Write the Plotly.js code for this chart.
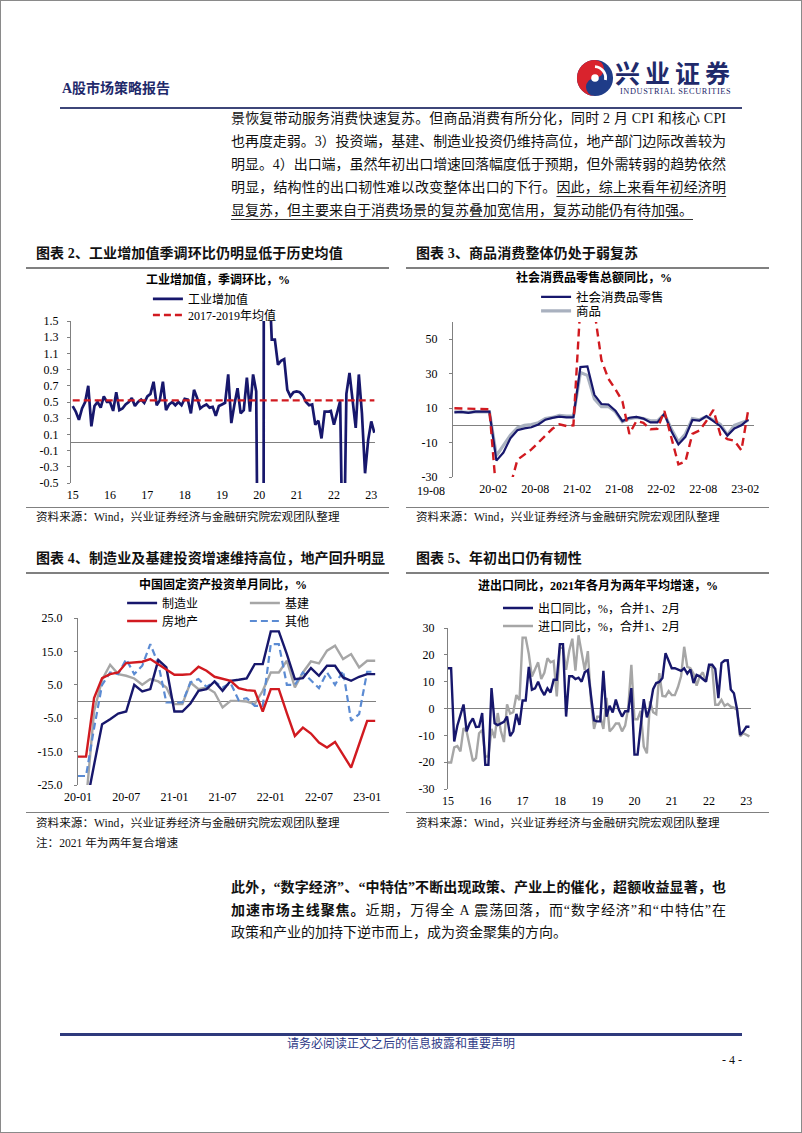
<!DOCTYPE html>
<html lang="zh-CN">
<head>
<meta charset="utf-8">
<script src="https://cdn.plot.ly/plotly-3.0.1.min.js"></script>
<style>
html,body{margin:0;padding:0;background:#fff;}
#page{position:relative;width:802px;height:1133px;box-sizing:border-box;border:1px solid #8a8a8a;overflow:hidden;
  font-family:"Liberation Serif","Noto Sans CJK SC",serif;color:#111;background:#fff;}
.t{position:absolute;white-space:nowrap;}
.pl{position:absolute;left:230px;width:495px;font-size:14px;line-height:20px;height:20px;white-space:nowrap;}
.pl .in{display:inline-block;}
.u{text-decoration:underline;text-decoration-thickness:1px;text-underline-offset:4px;text-decoration-color:#333;}
.hd{font-size:14px;font-weight:bold;line-height:18px;letter-spacing:0.1px;}
.src{font-size:11.6px;line-height:16px;}
.rule{position:absolute;background:#808080;}
.chart{position:absolute;}
</style>
</head>
<body>
<div id="page">
  <!-- header -->
  <div class="t" style="left:61px;top:78px;font-size:14px;line-height:20px;font-weight:bold;color:#1f2a6b;">A股市场策略报告</div>
  <svg style="position:absolute;left:575px;top:58px" width="38" height="38" viewBox="0 0 40 40">
    <circle cx="20" cy="20" r="19" fill="#1f3c88"/>
    <path d="M20 1 A19 19 0 0 0 20 39 A9.5 9.5 0 0 1 20 20 A9.5 9.5 0 0 0 20 1Z" fill="#d9232d"/>
    <path d="M20 8 A12 12 0 0 1 31 22" stroke="#fff" stroke-width="3" fill="none"/>
    <circle cx="20" cy="20" r="4" fill="#fff"/>
  </svg>
  <div class="t" style="left:614px;top:60px;font-size:25px;line-height:28px;font-weight:bold;color:#1f2a6b;letter-spacing:5px;">兴业证券</div>
  <div class="t" style="left:619px;top:86px;font-size:8.3px;line-height:10px;color:#1f2a6b;letter-spacing:0.6px;">INDUSTRIAL SECURITIES</div>
  <div class="rule" style="left:59px;top:106px;width:682px;height:2px;background:#3d4679;"></div>

  <!-- top paragraph -->
  <div class="pl" style="top:108px;"><span class="in">景恢复带动服务消费快速复苏。但商品消费有所分化，同时 2 月 CPI 和核心 CPI</span></div>
  <div class="pl" style="top:131px;"><span class="in">也再度走弱。3）投资端，基建、制造业投资仍维持高位，地产部门边际改善较为</span></div>
  <div class="pl" style="top:154px;"><span class="in">明显。4）出口端，虽然年初出口增速回落幅度低于预期，但外需转弱的趋势依然</span></div>
  <div class="pl" style="top:177px;"><span class="in">明显，结构性的出口韧性难以改变整体出口的下行。<span class="u">因此，综上来看年初经济明</span></span></div>
  <div class="pl last" style="top:200px;"><span class="in"><span class="u">显复苏，但主要来自于消费场景的复苏叠加宽信用，复苏动能仍有待加强。</span></span></div>

  <!-- chart headers, top row -->
  <div class="t hd" style="left:35px;top:244px;">图表 2、工业增加值季调环比仍明显低于历史均值</div>
  <div class="t hd" style="left:415px;top:244px;">图表 3、商品消费整体仍处于弱复苏</div>
  <div class="rule" style="left:25px;top:266px;width:363px;height:1.5px;"></div>
  <div class="rule" style="left:405px;top:266px;width:363px;height:1.5px;"></div>
  <div class="rule" style="left:25px;top:506px;width:363px;height:1px;"></div>
  <div class="rule" style="left:405px;top:506px;width:363px;height:1px;"></div>
  <div class="t src" style="left:35px;top:509px;">资料来源：Wind，兴业证券经济与金融研究院宏观团队整理</div>
  <div class="t src" style="left:415px;top:509px;">资料来源：Wind，兴业证券经济与金融研究院宏观团队整理</div>

  <!-- chart headers, bottom row -->
  <div class="t hd" style="left:35px;top:549px;">图表 4、制造业及基建投资增速维持高位，地产回升明显</div>
  <div class="t hd" style="left:415px;top:549px;">图表 5、年初出口仍有韧性</div>
  <div class="rule" style="left:25px;top:571px;width:363px;height:1.5px;"></div>
  <div class="rule" style="left:405px;top:571px;width:363px;height:1.5px;"></div>
  <div class="rule" style="left:25px;top:811px;width:363px;height:1px;"></div>
  <div class="rule" style="left:405px;top:811px;width:363px;height:1px;"></div>
  <div class="t src" style="left:35px;top:815px;">资料来源：Wind，兴业证券经济与金融研究院宏观团队整理</div>
  <div class="t src" style="left:415px;top:815px;">资料来源：Wind，兴业证券经济与金融研究院宏观团队整理</div>
  <div class="t src" style="left:35px;top:835px;">注：2021 年为两年复合增速</div>

  <!-- charts -->
  <div id="c2" class="chart" style="left:20px;top:268px;"></div>
  <div id="c3" class="chart" style="left:400px;top:268px;"></div>
  <div id="c4" class="chart" style="left:20px;top:573px;"></div>
  <div id="c5" class="chart" style="left:400px;top:573px;"></div>

  <!-- bottom paragraph -->
  <div class="pl" style="top:877px;font-weight:bold;"><span class="in">此外，“数字经济”、“中特估”不断出现政策、产业上的催化，超额收益显著，也</span></div>
  <div class="pl" style="top:900px;"><span class="in"><b>加速市场主线聚焦。</b>近期，万得全 A 震荡回落，而“数字经济”和“中特估”在</span></div>
  <div class="pl last" style="top:922px;"><span class="in">政策和产业的加持下逆市而上，成为资金聚集的方向。</span></div>

  <!-- footer -->
  <div class="rule" style="left:59px;top:1032px;width:682px;height:2.5px;background:#2f3a7c;"></div>
  <div class="t" style="left:59px;width:682px;top:1035px;font-size:12px;line-height:16px;text-align:center;color:#2e3a87;">请务必阅读正文之后的信息披露和重要声明</div>
  <div class="t" style="left:700px;width:41px;top:1051px;font-size:12px;line-height:16px;text-align:right;color:#111;">- 4 -</div>
</div>

<script>
// justify each (non-final) paragraph line to the 495px column
function justifyLines() {
  document.querySelectorAll('.pl').forEach(el => {
    if (el.classList.contains('last')) return;
    el.style.letterSpacing = '0px';
    const inner = el.querySelector('.in');
    const w = inner.getBoundingClientRect().width;
    const n = inner.textContent.length;
    el.style.letterSpacing = ((495 - w) / (n - 1)) + 'px';
  });
}
justifyLines();
if (document.fonts && document.fonts.ready) document.fonts.ready.then(justifyLines);

// ===================== DATA =====================
// Chart 2: industrial value added, s.a. m/m %, monthly Jan-2015 .. Feb-2023
const c2YearLabels = ['15','16','17','18','19','20','21','22','23'];
const c2IndustrialSA = [
  0.45,0.38,0.28,0.42,0.50,0.70,0.20,0.45,0.50,0.43,0.57,0.50,
  0.50,0.39,0.62,0.40,0.42,0.47,0.50,0.55,0.45,0.50,0.53,0.49,
  0.57,0.60,0.75,0.46,0.52,0.75,0.40,0.47,0.50,0.46,0.50,0.46,
  0.54,0.53,0.36,0.65,0.55,0.42,0.45,0.47,0.43,0.44,0.33,0.45,
  0.47,0.49,0.84,0.24,0.47,0.67,0.36,0.40,0.80,0.38,0.84,0.63,
  -4.0,-20.0,30.0,2.2,1.27,1.27,0.96,1.01,1.03,0.65,0.57,0.62,
  0.63,0.62,0.58,0.50,0.46,0.47,0.22,0.27,0.05,0.38,0.38,0.39,
  0.22,0.36,0.51,-2.0,0.60,0.86,0.50,0.18,0.84,0.36,-0.38,0.03,
  0.26,0.12
];
const c2Avg2017to2019 = 0.52;
const c2YTickVals = [-0.5,-0.3,-0.1,0.1,0.3,0.5,0.7,0.9,1.1,1.3,1.5];
const c2YTickText = ['-0.5','-0.3','-0.1','0.1','0.3','0.5','0.7','0.9','1.1','1.3','1.5'];

// Chart 3: retail sales y/y %, monthly Aug-2019 .. Feb-2023
const c3MonthLabels = ['20-02','20-08','21-02','21-08','22-02','22-08','23-02'];
const c3LabelMonthIdx = [6,12,18,24,30,36,42];
const c3RetailTotal = [
  7.5,7.8,7.2,8.0,8.0,8.0,-20.5,-15.8,-7.5,-2.8,-1.8,-1.1,0.5,3.3,4.3,5.0,4.6,4.6,
  33.8,34.2,17.7,12.4,12.1,8.5,2.5,4.4,4.9,3.9,1.7,1.7,6.7,-3.5,-11.1,-6.7,3.1,2.7,
  5.4,2.5,-0.5,-5.9,-1.8,0.0,3.5
];
const c3Goods = [
  7.9,7.9,7.5,8.0,7.8,7.8,-17.6,-12.0,-5.7,-1.5,0.0,0.5,1.5,3.9,4.6,5.8,5.3,5.3,
  30.7,29.0,15.3,10.9,11.0,7.9,2.1,3.9,4.6,4.0,2.6,2.6,6.5,-2.1,-9.7,-5.0,3.9,3.2,
  5.1,3.0,0.5,-5.6,0.0,1.5,2.9
];
const c3Catering = [
  9.9,9.7,9.5,9.5,9.5,9.3,-40,-46,-35,-20,-17,-14,-10,-6,-2,0.6,-0.4,0,
  70,95,65,38,27,21,14,-5,2.5,1.5,-2.3,-2.0,8.3,-8,-22.7,-21,-5,-3,
  2.5,9,-5.5,-8,-9,-14.5,9.5
];
const c3YTickVals = [-30,-10,10,30,50];
const c3YTickText = ['-30','-10','10','30','50'];

// Chart 4: FAI single-month y/y %, monthly Jan-2020 .. Feb-2023
const c4MonthLabels = ['20-01','20-07','21-01','21-07','22-01','22-07','23-01'];
const c4Manufacturing = [
  -31.5,-31.5,-19,-6.8,-5.3,-3.6,-3.0,5.0,3.0,3.7,12.4,10.2,
  -3.0,-3.0,-0.6,3.2,3.7,6.0,3.2,6.2,6.5,6.9,11.2,11.2,
  21.0,21.0,14.2,6.7,7.0,10.0,7.7,10.7,10.7,7.2,6.2,7.4,
  8.2,8.2
];
const c4Infrastructure = [
  -30,-30,-3,6.5,11.0,8.2,7.7,6.9,5.0,6.7,6.0,4.2,
  -0.8,-0.8,5.7,3.7,4.2,2.7,-1.8,0.2,0.2,0.0,-0.8,3.2,
  8.7,8.7,12.2,4.2,8.7,12.0,11.4,15.2,16.7,12.7,14.2,10.2,
  12.2,12.2
];
const c4RealEstate = [
  -16.5,-16.5,1.0,7.0,8.2,8.7,11.5,11.7,11.9,12.7,11.2,9.7,
  8.0,8.0,8.2,10.4,9.2,7.4,6.7,6.2,4.0,3.4,3.2,-3.0,
  3.7,3.7,-3.5,-10.3,-7.8,-9.6,-12.3,-13.8,-12.1,-15.8,-19.8,-12.8,
  -5.8,-5.8
];
const c4Other = [
  -22.3,-22.3,-8,5.0,8.7,8.2,12.7,8.2,10.7,17.2,11.2,-0.3,
  -0.3,-0.3,5.7,6.7,4.4,6.0,4.2,5.5,0.4,1.0,-1.3,-1.3,
  17.2,17.2,5.0,5.0,8.7,6.5,4.0,8.7,5.0,9.2,-5.8,-3.8,
  8.9,8.9
];
const c4YTickVals = [-25,-15,-5,5,15,25];
const c4YTickText = ['-25.0','-15.0','-5.0','5.0','15.0','25.0'];

// Chart 5: exports / imports y/y %, monthly Jan-2015 .. Feb-2023
const c5YearLabels = ['15','16','17','18','19','20','21','22','23'];
const c5Exports = [
  15.0,15.0,-12.3,-6.4,-2.5,1.5,-8.5,-5.5,-3.7,-6.9,-6.8,-1.7,
  -21,-21,7.6,-5.5,-6.2,-5.5,-5.0,-3.0,-10.3,-8.5,-2.0,-6.1,
  3.0,3.0,15.5,7.0,7.5,10.0,7.0,5.0,7.5,6.0,10.7,10.7,
  24.0,24.0,-3.0,12.0,12.0,11.0,11.5,10.0,13.5,14.3,5.0,-4.4,
  -4.8,-4.8,14.0,-3.0,1.0,-1.5,3.3,-0.5,-3.0,-1.0,-1.0,7.6,
  -17.2,-17.2,-6.6,3.5,-3.3,0.5,7.2,9.5,9.9,11.4,20.6,18.1,
  15.0,15.0,14.5,14.0,15.0,13.0,14.5,9.5,12.5,12.0,11.0,10.0,
  16.3,16.3,14.7,3.9,16.9,17.9,18.0,7.1,5.7,-0.3,-9.8,-8.6,
  -6.8,-6.8
];
const c5Imports = [
  -20.1,-20.1,-14.5,-14.0,-16.0,-7.3,-8.6,-14.0,-19.6,-18.5,-9.2,-8.0,
  -17.9,-17.9,-7.6,-11.0,-1.7,-8.4,-12.5,1.5,-1.9,-1.4,5.0,3.1,
  26.4,26.4,20.3,11.9,14.8,17.2,11.0,13.3,18.7,17.2,17.7,4.5,
  22.6,22.6,14.4,21.5,26.0,14.1,27.3,20.0,14.3,21.4,3.0,-7.6,
  -3.1,-3.1,-7.6,4.0,-8.5,-7.3,-5.6,-5.6,-8.5,-6.4,0.3,16.3,
  -4.0,-4.0,-0.9,-14.2,-16.7,2.7,-1.4,-2.1,13.2,4.7,4.5,6.5,
  5.0,5.0,8.0,12.0,23.0,15.5,15.0,13.0,8.5,12.0,13.5,10.0,
  15.5,15.5,1.4,1.4,3.2,1.0,1.7,0.7,0.3,-0.5,-10.4,-9.2,
  -9.8,-10.4
];
const c5YTickVals = [-30,-20,-10,0,10,20,30];
const c5YTickText = ['-30','-20','-10','0','10','20','30'];

// ===================== STYLE =====================
const FONT = '"Liberation Serif", "Noto Sans CJK SC", serif';
const NAVY = '#17176c';
const RED = '#d11a20';
const GRAY = '#a6a6a6';
const GRAY_BLUE = '#a9b1bf';
const BLUE_DASH = '#5b8bd3';
const AXIS_GRAY = '#808080';

const idx = arr => arr.map((_, i) => i);
const yearTicks = labels => labels.map((_, k) => k * 12);

function makeLayout(c) {
  const lay = {
    width: c.w, height: c.h,
    margin: {l: c.l, r: c.r, t: c.t, b: c.b, pad: 0},
    paper_bgcolor: 'rgba(0,0,0,0)', plot_bgcolor: 'rgba(0,0,0,0)',
    font: {family: FONT, size: 12, color: '#000'},
    showlegend: true, hovermode: false,
    title: {text: '<b>' + c.title + '</b>', font: {family: FONT, size: 12, color: '#000'},
            xref: 'container', x: c.titleX, xanchor: 'center', yref: 'container', y: c.titleY, yanchor: 'middle'},
    xaxis: {range: c.xr, showgrid: false, zeroline: false, showline: false, ticks: '',
            tickmode: 'array', tickvals: c.xtv, ticktext: c.xtt, ticklabelstandoff: c.xStand,
            tickfont: {family: FONT, size: 12, color: '#000'}, fixedrange: true},
    xaxis2: {overlaying: 'x', anchor: 'free', position: c.zeroPos, range: c.xr, showgrid: false,
             zeroline: false, showline: false, ticks: 'inside', ticklen: 4, tickwidth: 1, tickcolor: AXIS_GRAY,
             tickmode: 'array', tickvals: c.xtv, showticklabels: false, fixedrange: true},
    yaxis: {range: c.yr, showgrid: false, zeroline: true, zerolinecolor: AXIS_GRAY, zerolinewidth: 1,
            showline: true, linecolor: AXIS_GRAY, linewidth: 1, ticks: 'outside', ticklen: 3,
            tickcolor: AXIS_GRAY, tickwidth: 1, tickmode: 'array', tickvals: c.ytv, ticktext: c.ytt,
            ticklabelstandoff: c.yStand, tickfont: {family: FONT, size: 12, color: '#000'}, fixedrange: true},
    annotations: c.annotations || []
  };
  c.legends.forEach((lg, k) => {
    lay[k === 0 ? 'legend' : 'legend' + (k + 1)] = {
      x: lg.x, y: lg.y, xanchor: 'left', yanchor: 'middle', bgcolor: 'rgba(0,0,0,0)', borderwidth: 0,
      font: {family: FONT, size: c.legendSize || 12, color: '#000'}, itemwidth: 30, orientation: 'v'
    };
  });
  return lay;
}
const cfg = {displayModeBar: false, staticPlot: true};

// ---------- Chart 2 ----------
{
  const x = idx(c2IndustrialSA);
  const traces = [
    {x: x, y: c2IndustrialSA, type: 'scatter', mode: 'lines', name: '工业增加值',
     line: {color: NAVY, width: 2.7}, legend: 'legend'},
    {x: [x[0], x[x.length - 1]], y: [c2Avg2017to2019, c2Avg2017to2019], type: 'scatter', mode: 'lines',
     name: '2017-2019年均值', line: {color: RED, width: 2.4, dash: '7px,4px'}, legend: 'legend2'}
  ];
  const lay = makeLayout({
    w: 370, h: 245, l: 50, r: 16, t: 52, b: 31,
    title: '工业增加值，季调环比，%', titleX: (217 - 20) / 370, titleY: 1 - 11 / 245,
    xr: [-0.55, 97.2], xtv: yearTicks(c2YearLabels), xtt: c2YearLabels, xStand: 3,
    yr: [-0.5, 1.5], ytv: c2YTickVals, ytt: c2YTickText, yStand: 6, zeroPos: 0.25,
    legends: [{x: 0.253, y: 1.136}, {x: 0.253, y: 1.037}]
  });
  Plotly.newPlot('c2', traces, lay, cfg);
}

// ---------- Chart 3 ----------
{
  const x = idx(c3RetailTotal);
  const traces = [
    {x: x, y: c3Goods, type: 'scatter', mode: 'lines', name: '商品',
     line: {color: GRAY_BLUE, width: 3.2}, legend: 'legend2'},
    {x: x, y: c3RetailTotal, type: 'scatter', mode: 'lines', name: '社会消费品零售',
     line: {color: NAVY, width: 2.2}, legend: 'legend'},
    {x: x, y: c3Catering, type: 'scatter', mode: 'lines', name: '餐饮收入',
     line: {color: RED, width: 2.4, dash: '8px,5px'}, showlegend: false}
  ];
  const lay = makeLayout({
    w: 380, h: 245, l: 52, r: 27, t: 53, b: 37,
    title: '社会消费品零售总额同比，%', titleX: (593 - 400) / 380, titleY: 1 - 9 / 245,
    xr: [-0.2, 42.8], xtv: c3LabelMonthIdx.map(v => v - 0.45), xtt: c3MonthLabels, xStand: 3,
    yr: [-30, 60], ytv: c3YTickVals, ytt: c3YTickText, yStand: 9, zeroPos: 30 / 90,
    legends: [{x: 0.276, y: 1.16}, {x: 0.276, y: 1.07}], legendSize: 12.5,
    annotations: [{xref: 'paper', yref: 'paper', x: (430 - 452) / 301, y: -14 / 155, text: '19-08',
                   showarrow: false, xanchor: 'center', yanchor: 'middle',
                   font: {family: FONT, size: 12, color: '#000'}}]
  });
  Plotly.newPlot('c3', traces, lay, cfg);
}

// ---------- Chart 4 ----------
{
  const x = idx(c4Manufacturing);
  const traces = [
    {x: x, y: c4Infrastructure, type: 'scatter', mode: 'lines', name: '基建',
     line: {color: GRAY, width: 2.4}, legend: 'legend2'},
    {x: x, y: c4Other, type: 'scatter', mode: 'lines', name: '其他',
     line: {color: BLUE_DASH, width: 2.2, dash: '7px,4px'}, legend: 'legend4'},
    {x: x, y: c4Manufacturing, type: 'scatter', mode: 'lines', name: '制造业',
     line: {color: NAVY, width: 2.4}, legend: 'legend'},
    {x: x, y: c4RealEstate, type: 'scatter', mode: 'lines', name: '房地产',
     line: {color: RED, width: 2.4}, legend: 'legend3'}
  ];
  const lay = makeLayout({
    w: 370, h: 240, l: 57, r: 15, t: 44, b: 29,
    title: '中国固定资产投资单月同比，%', titleX: (222 - 20) / 370, titleY: 1 - 11 / 240,
    xr: [0, 37.1], xtv: c4MonthLabels.map((_, k) => k * 6), xtt: c4MonthLabels, xStand: 3,
    yr: [-25, 25], ytv: c4YTickVals, ytt: c4YTickText, yStand: 9, zeroPos: 0.5,
    legends: [{x: 0.148, y: 1.090}, {x: 0.560, y: 1.090}, {x: 0.148, y: 0.982}, {x: 0.560, y: 0.982}]
  });
  Plotly.newPlot('c4', traces, lay, cfg);
}

// ---------- Chart 5 ----------
{
  const x = idx(c5Exports);
  const traces = [
    {x: x, y: c5Imports, type: 'scatter', mode: 'lines', name: '进口同比，%，合并1、2月',
     line: {color: GRAY, width: 2.4}, legend: 'legend2'},
    {x: x, y: c5Exports, type: 'scatter', mode: 'lines', name: '出口同比，%，合并1、2月',
     line: {color: NAVY, width: 2.4}, legend: 'legend'}
  ];
  const lay = makeLayout({
    w: 380, h: 240, l: 47, r: 30, t: 54, b: 25,
    title: '进出口同比，2021年各月为两年平均增速，%', titleX: (597 - 400) / 380, titleY: 1 - 12 / 240,
    xr: [0, 97.5], xtv: yearTicks(c5YearLabels), xtt: c5YearLabels, xStand: 3,
    yr: [-30, 30], ytv: c5YTickVals, ytt: c5YTickText, yStand: 7, zeroPos: 0.5,
    legends: [{x: 0.165, y: 1.124}, {x: 0.165, y: 1.012}]
  });
  Plotly.newPlot('c5', traces, lay, cfg);
}
</script>
</body>
</html>
